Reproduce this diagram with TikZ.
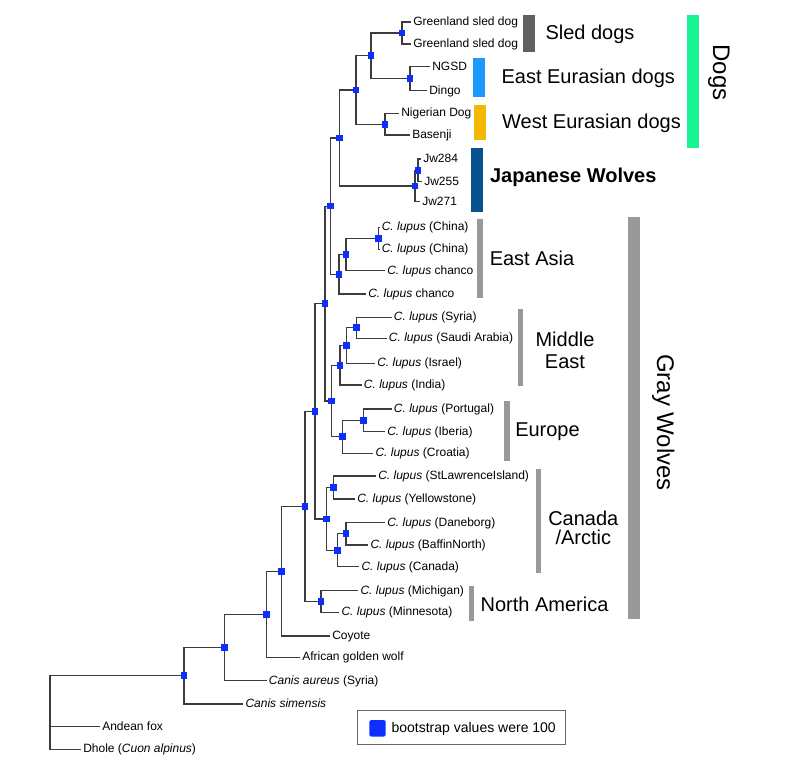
\documentclass[tikz,border=0pt]{standalone}
\usepackage{fontspec}
\setmainfont{Liberation Sans}
\usetikzlibrary{backgrounds}
\definecolor{bootblue}{RGB}{12,46,255}
\definecolor{branchgray}{RGB}{60,60,60}
\definecolor{sledgray}{RGB}{96,96,96}
\definecolor{eastblue}{RGB}{28,153,255}
\definecolor{westgold}{RGB}{245,184,0}
\definecolor{jwblue}{RGB}{8,82,145}
\definecolor{dogsgreen}{RGB}{26,245,146}
\definecolor{wolfgray}{RGB}{153,153,153}
\newcommand{\clup}{\textit{C. lupus}}
\tikzset{
  leaf/.style={anchor=west, inner sep=1.5pt, text height=6.5pt, text depth=1.5pt,
    font=\fontsize{9}{10}\selectfont},
  boot/.style={rectangle, fill=bootblue, minimum size=5pt, inner sep=0pt},
  branch/.style={draw=branchgray, line width=0.9pt},
  clade/.style={font=\fontsize{15}{16.5}\selectfont, align=center, yshift=-1.5pt},
  bigclade/.style={font=\fontsize{18}{20}\selectfont, rotate=-90},
}
\begin{document}
\begin{tikzpicture}[x=0.75pt, y=-0.75pt]
\useasboundingbox (0,0) rectangle (794,782);

\node[leaf] (gsd1) at (411,22) {Greenland sled dog};
\node[leaf] (gsd2) at (411,44) {Greenland sled dog};
\node[leaf] (ngsd) at (430,66.7) {NGSD};
\node[leaf] (dingo) at (427,90.7) {Dingo};
\node[leaf] (nigerian) at (399,113.3) {Nigerian Dog};
\node[leaf] (basenji) at (410,135) {Basenji};
\node[leaf] (jw284) at (421,159) {Jw284};
\node[leaf] (jw255) at (422,181.7) {Jw255};
\node[leaf] (jw271) at (420,201.7) {Jw271};
\node[leaf] (china1) at (379.5,227.3) {\clup{} (China)};
\node[leaf] (china2) at (379.5,249.3) {\clup{} (China)};
\node[leaf] (chanco1) at (385,270.7) {\clup{} chanco};
\node[leaf] (chanco2) at (366,294) {\clup{} chanco};
\node[leaf] (syria) at (391.7,317.3) {\clup{} (Syria)};
\node[leaf] (saudi) at (386.7,338.3) {\clup{} (Saudi Arabia)};
\node[leaf] (israel) at (375,363.3) {\clup{} (Israel)};
\node[leaf] (india) at (361.7,385) {\clup{} (India)};
\node[leaf] (portugal) at (391.7,409) {\clup{} (Portugal)};
\node[leaf] (iberia) at (385,431.7) {\clup{} (Iberia)};
\node[leaf] (croatia) at (373.3,453.3) {\clup{} (Croatia)};
\node[leaf] (stlawrence) at (376,476) {\clup{} (StLawrenceIsland)};
\node[leaf] (yellowstone) at (355,499) {\clup{} (Yellowstone)};
\node[leaf] (daneborg) at (385,522.7) {\clup{} (Daneborg)};
\node[leaf] (baffin) at (368.3,545) {\clup{} (BaffinNorth)};
\node[leaf] (canada) at (359.3,566.7) {\clup{} (Canada)};
\node[leaf] (michigan) at (358.3,590.7) {\clup{} (Michigan)};
\node[leaf] (minnesota) at (339.3,612.3) {\clup{} (Minnesota)};
\node[leaf] (coyote) at (330,636) {Coyote};
\node[leaf] (afgw) at (300,657.3) {African golden wolf};
\node[leaf] (aureus) at (266.7,680.7) {\textit{Canis aureus} (Syria)};
\node[leaf] (simensis) at (243.3,704) {\textit{Canis simensis}};
\node[leaf] (andean) at (100,726.7) {Andean fox};
\node[leaf] (dhole) at (81,749.3) {Dhole (\textit{Cuon alpinus})};

\node[boot] (nA) at (402,33) {};
\node[boot] (nB) at (410,78.7) {};
\node[boot] (nC) at (371,55.8) {};
\node[boot] (nD) at (385,124.2) {};
\node[boot] (nE) at (356,90) {};
\node[boot] (nG) at (418,170.3) {};
\node[boot] (nF) at (415,186) {};
\node[boot] (nH) at (339.3,138) {};
\node[boot] (nK) at (378.3,238.3) {};
\node[boot] (nL) at (346,254.5) {};
\node[boot] (nJ) at (339,274.2) {};
\node[boot] (nI) at (330.7,206.1) {};
\node[boot] (nP1) at (356.7,327.8) {};
\node[boot] (nP2) at (346.7,345.5) {};
\node[boot] (nP3) at (340,365.3) {};
\node[boot] (nE1) at (363.3,420.3) {};
\node[boot] (nE2) at (342.7,436.8) {};
\node[boot] (nP4) at (331.7,401) {};
\node[boot] (nM) at (325,303.6) {};
\node[boot] (nR1) at (333.3,487.5) {};
\node[boot] (nR3) at (346,533.8) {};
\node[boot] (nR2) at (337.7,550.3) {};
\node[boot] (nR) at (326.7,518.9) {};
\node[boot] (nQ) at (315,411.3) {};
\node[boot] (nT) at (321,601.5) {};
\node[boot] (nS) at (305,506.4) {};
\node[boot] (nU) at (281.7,571.2) {};
\node[boot] (nV) at (266.7,614.3) {};
\node[boot] (nW) at (224.3,647.5) {};
\node[boot] (nX) at (184,675.8) {};
\coordinate (root) at (50,712);

\begin{scope}[on background layer]
\draw[branch] (nA.center) |- (gsd1.west) (nA.center) |- (gsd2.west);
\draw[branch] (nB.center) |- (ngsd.west) (nB.center) |- (dingo.west);
\draw[branch] (nC.center) |- (nA.center) (nC.center) |- (nB.center);
\draw[branch] (nD.center) |- (nigerian.west) (nD.center) |- (basenji.west);
\draw[branch] (nE.center) |- (nC.center) (nE.center) |- (nD.center);
\draw[branch] (nG.center) |- (jw284.west) (nG.center) |- (jw255.west);
\draw[branch] (nF.center) |- (nG.center) (nF.center) |- (jw271.west);
\draw[branch] (nH.center) |- (nE.center) (nH.center) |- (nF.center);
\draw[branch] (nK.center) |- (china1.west) (nK.center) |- (china2.west);
\draw[branch] (nL.center) |- (nK.center) (nL.center) |- (chanco1.west);
\draw[branch] (nJ.center) |- (nL.center) (nJ.center) |- (chanco2.west);
\draw[branch] (nI.center) |- (nH.center) (nI.center) |- (nJ.center);
\draw[branch] (nP1.center) |- (syria.west) (nP1.center) |- (saudi.west);
\draw[branch] (nP2.center) |- (nP1.center) (nP2.center) |- (israel.west);
\draw[branch] (nP3.center) |- (nP2.center) (nP3.center) |- (india.west);
\draw[branch] (nE1.center) |- (portugal.west) (nE1.center) |- (iberia.west);
\draw[branch] (nE2.center) |- (nE1.center) (nE2.center) |- (croatia.west);
\draw[branch] (nP4.center) |- (nP3.center) (nP4.center) |- (nE2.center);
\draw[branch] (nM.center) |- (nI.center) (nM.center) |- (nP4.center);
\draw[branch] (nR1.center) |- (stlawrence.west) (nR1.center) |- (yellowstone.west);
\draw[branch] (nR3.center) |- (daneborg.west) (nR3.center) |- (baffin.west);
\draw[branch] (nR2.center) |- (nR3.center) (nR2.center) |- (canada.west);
\draw[branch] (nR.center) |- (nR1.center) (nR.center) |- (nR2.center);
\draw[branch] (nQ.center) |- (nM.center) (nQ.center) |- (nR.center);
\draw[branch] (nT.center) |- (michigan.west) (nT.center) |- (minnesota.west);
\draw[branch] (nS.center) |- (nQ.center) (nS.center) |- (nT.center);
\draw[branch] (nU.center) |- (nS.center) (nU.center) |- (coyote.west);
\draw[branch] (nV.center) |- (nU.center) (nV.center) |- (afgw.west);
\draw[branch] (nW.center) |- (nV.center) (nW.center) |- (aureus.west);
\draw[branch] (nX.center) |- (nW.center) (nX.center) |- (simensis.west);
\draw[branch] (root) |- (nX.center) (root) |- (andean.west) (root) |- (dhole.west);
\end{scope}

\fill[sledgray] (522.7,15) rectangle (535,52.3);
\fill[eastblue] (473.3,58.3) rectangle (485,96.7);
\fill[westgold] (474,105) rectangle (485.7,140);
\fill[jwblue] (471,147.7) rectangle (482.7,211.7);
\fill[dogsgreen] (687.3,15) rectangle (699.3,148.3);
\fill[wolfgray] (477.3,219.3) rectangle (482.7,298.3);
\fill[wolfgray] (517.7,309) rectangle (523.3,385.7);
\fill[wolfgray] (504.3,400.7) rectangle (509.7,460.7);
\fill[wolfgray] (536,469.3) rectangle (541,572.7);
\fill[wolfgray] (469.3,586) rectangle (474.3,620.7);
\fill[wolfgray] (627.7,217.3) rectangle (640,619.3);

\node[clade] (sled) at (590,32.3) {Sled dogs};
\node[clade] (eastdogs) at (588.3,76) {East Eurasian dogs};
\node[clade] (westdogs) at (591.5,121.7) {West Eurasian dogs};
\node[clade, font=\fontsize{15}{16.5}\selectfont\bfseries] (japan) at (573.3,175.7) {Japanese Wolves};
\node[bigclade] (dogs) at (719,72.5) {Dogs};
\node[clade] (eastasia) at (532,256) {East Asia};
\node[clade] (mideast) at (565,348.3) {Middle\\East};
\node[clade] (europe) at (547.5,430) {Europe};
\node[clade, font=\fontsize{15}{14.3}\selectfont] (arctic) at (583.3,525.5) {Canada\\/Arctic};
\node[clade] (namerica) at (544.5,602.7) {North America};
\node[bigclade] (graywolves) at (663.3,422.5) {Gray Wolves};

\node[draw=black!60, line width=0.8pt, minimum width=156pt, minimum height=25.7pt] (legend) at (461.7,727.8) {};
\node[fill=bootblue, rounded corners=1.5pt, minimum size=12.3pt, inner sep=0pt] (key) at (377.5,728.3) {};
\node[anchor=west, inner sep=1pt, font=\fontsize{10.5}{12}\selectfont] (keytext) at (390,728.8) {bootstrap values were 100};
\end{tikzpicture}
\end{document}
